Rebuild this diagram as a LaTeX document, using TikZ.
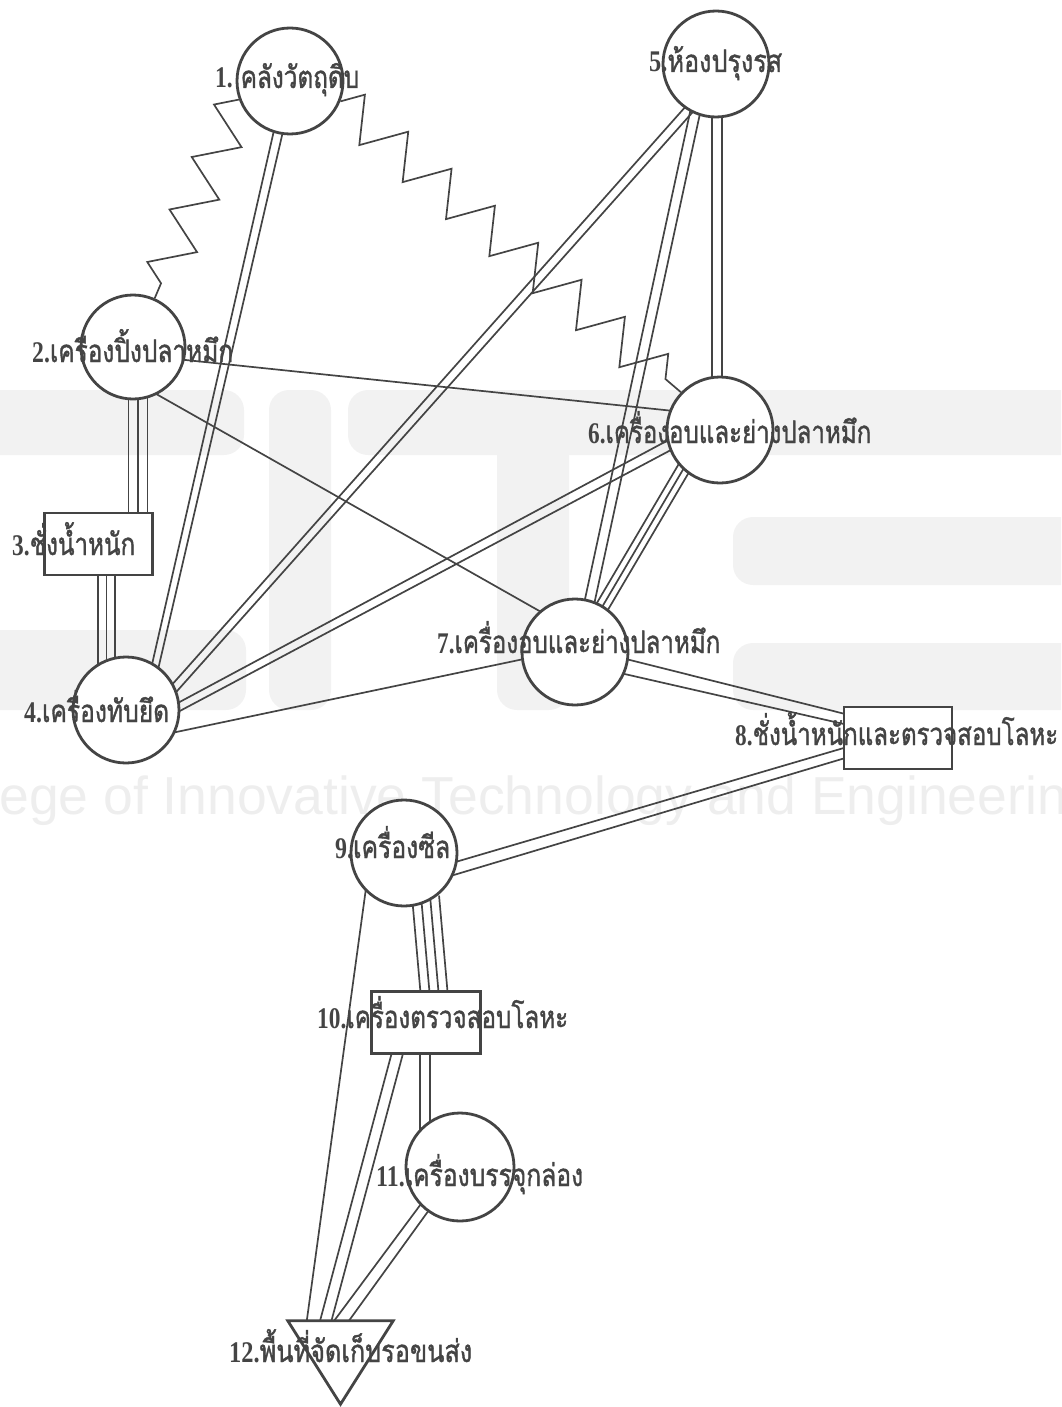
\documentclass[tikz,border=0pt]{standalone}
\usepackage{fontspec}
\usepackage{graphicx}
\usetikzlibrary{calc,decorations.pathmorphing}
\newfontfamily\thaifont[Script=Thai, FakeBold=1.4]{Loma}
\newfontfamily\digitfont{Liberation Serif}
\newfontfamily\wmfont{Liberation Sans}
\definecolor{ink}{HTML}{444444}
\definecolor{wmgray}{HTML}{EEEEEE}
\definecolor{wmblockgray}{HTML}{F2F2F2}
\pgfdeclarelayer{wmlayer}
\pgfdeclarelayer{edgelayer}
\pgfsetlayers{wmlayer,edgelayer,main}

\tikzset{
  station/.style={circle, draw=ink, line width=2.8pt, fill=white, minimum size=106pt, inner sep=0pt},
  checkbox/.style={rectangle, draw=ink, line width=2.8pt, fill=white, minimum height=62pt, inner sep=0pt},
  border/.style={draw=ink, line width=2.8pt, fill=white},
  conn/.style={draw=ink, line width=1.7pt},
  wave/.style={conn, decorate, decoration={zigzag, segment length=57pt, amplitude=21pt}},
  lbltext/.style={inner sep=0pt, text=ink, anchor=base west},
  wmblock/.style={fill=wmblockgray, rounded corners=20pt},
}

% a bundle of parallel (or slightly converging) lines from #1 to #2;
% each entry a/b of #3 gives the side offset at the start and at the end
\newcommand\multilink[3]{%
  \foreach \oa/\ob in {#3}{%
    \draw[conn] ($($(#1)!-6pt!(#2)$)!\oa!90:(#2)$) -- ($($(#2)!-6pt!(#1)$)!\ob!-90:(#1)$);
  }}
% station label: name, left x, baseline y, width, number, Thai text
\newcommand\stlabel[6]{%
  \node[lbltext] (#1) at (#2,#3) {\resizebox{#4pt}{\height}{%
    {\digitfont\bfseries\fontsize{30}{34}\selectfont #5}%
    {\thaifont\fontsize{31}{36}\selectfont #6}}};}

\begin{document}
\begin{tikzpicture}[x=1pt,y=-1pt]
\useasboundingbox (0,0) rectangle (1061,1407);

% background watermark: large block letters and the college name
\begin{pgfonlayer}{wmlayer}
  \begin{scope}
    \clip (0,0) rectangle (1061,1407);
    % C
    \fill[wmblock] (-60,390) rectangle (244,455);
    \fill[wmblock] (-60,630) rectangle (246,710);
    % I
    \fill[wmblock] (269,390) rectangle (331,710);
    % T
    \fill[wmblock] (348,390) rectangle (713,455);
    \fill[wmblock] (497,390) rectangle (569,710);
    % E
    \fill[wmblock] (733,390) rectangle (1100,455);
    \fill[wmblock] (733,517) rectangle (1100,585);
    \fill[wmblock] (733,643) rectangle (1100,710);
    \node[inner sep=0pt, anchor=base west, text=wmgray, font=\wmfont\fontsize{53.5}{60}\selectfont] (wmline) at (-93,814) {College of Innovative Technology and Engineering};
  \end{scope}
\end{pgfonlayer}

% stations
\node[station] (n1) at (290,81) {};
\node[station, minimum size=104pt] (n2) at (133,347) {};
\node[checkbox, minimum width=108pt] (n3) at (98.5,544) {};
\node[station] (n4) at (126,710) {};
\node[station] (n5) at (716,64) {};
\node[station] (n6) at (720,430) {};
\node[station] (n7) at (575,652) {};
\node[checkbox, minimum width=108pt] (n8) at (898,738) {};
\node[station] (n9) at (404,853) {};
\node[checkbox, minimum width=109pt] (n10) at (426,1022.5) {};
\node[station, minimum size=108pt] (n11) at (460,1167) {};
\node[inner sep=0pt, minimum width=105pt, minimum height=83pt] (n12) at (340.5,1362.5) {};
\draw[border] (n12.north west) -- (n12.north east) -- (n12.south) -- cycle;

% attachment points
\coordinate (a23) at ($(n2.center)+(5,0)$);
\coordinate (b23) at (a23 |- n3.center);
\coordinate (a34) at ($(n3.center)+(8,0)$);
\coordinate (b34) at (a34 |- n4.center);
\coordinate (a56) at ($(n5.center)+(1,0)$);
\coordinate (b56) at (a56 |- n6.center);
\coordinate (a1011) at ($(n10.center)+(-1,0)$);
\coordinate (b1011) at (a1011 |- n11.center);
\coordinate (p8a) at ($(n8.north west)!0.2!(n8.south west)$);
\coordinate (p8b) at ($(n8.north west)!0.74!(n8.south west)$);
\coordinate (p10a) at ($(n10.north west)!0.57!(n10.north east)$);
\coordinate (p10b) at ($(n10.south west)!0.24!(n10.south east)$);
\coordinate (p12a) at ($(n12.north west)!0.18!(n12.north east)$);
\coordinate (p12b) at ($(n12.north west)!0.36!(n12.north east)$);
\coordinate (p12c) at ($(n12.north west)!0.51!(n12.north east)$);

% connectors
\begin{pgfonlayer}{edgelayer}
  \draw[wave, decoration={mirror}] (n1.-160) -- (n2.66);
  \draw[wave] (n1.-22) -- (n6.136);
  \multilink{n1.-103}{n4.57}{-4.5pt/-3.5pt,4.5pt/3.5pt}
  \multilink{a23}{b23}{-9.5pt/-9.5pt,0pt/0pt,9.5pt/9.5pt}
  \multilink{a34}{b34}{-8.5pt/-8.5pt,0pt/0pt,8.5pt/8.5pt}
  \multilink{n2.-14}{n6.159}{0pt/0pt}
  \multilink{n2.-63}{n7.131}{0pt/0pt}
  \multilink{n4.25}{n5.-121}{-4pt/-4.5pt,4pt/4.5pt}
  \multilink{n4.4}{n6.-163}{-4pt/-5pt,4pt/5pt}
  \multilink{n4.-24}{n7.-172}{0pt/0pt}
  \begin{scope}[conn/.append style={line width=2.1pt}]
    \multilink{a56}{b56}{-5pt/-5pt,5pt/5pt}
  \end{scope}
  \multilink{n5.-113}{n7.74}{-5pt/-5pt,5pt/5pt}
  \multilink{n6.-133}{n7.59}{-6.5pt/-6.5pt,0pt/0pt,6.5pt/6.5pt}
  \multilink{n7.-16}{p8a}{-7.5pt/-5pt,7.5pt/5pt}
  \multilink{n9.-16}{p8b}{-6pt/-5pt,6pt/5pt}
  \multilink{n9.-66}{p10a}{-13.5pt/-13.5pt,-4.5pt/-4.5pt,4.5pt/4.5pt,13.5pt/13.5pt}
  \multilink{a1011}{b1011}{-5.3pt/-5.3pt,5.3pt/5.3pt}
  \multilink{p10b}{p12b}{-5.5pt/-5.5pt,5.5pt/5.5pt}
  \multilink{n9.-135}{p12a}{0pt/0pt}
  \multilink{n11.-131}{p12c}{-5pt/-6pt,5pt/6pt}
\end{pgfonlayer}

% station labels
\stlabel{l1}{215}{88}{144}{1. }{คลังวัตถุดิบ}
\stlabel{l2}{32}{362}{201}{2.}{เครื่องปิ้งปลาหมึก}
\stlabel{l3}{12}{555}{123}{3.}{ชั่งน้ำหนัก}
\stlabel{l4}{24}{722}{145}{4.}{เครื่องทับยึด}
\stlabel{l5}{649}{72}{133}{5.}{ห้องปรุงรส}
\stlabel{l6}{588}{443}{283}{6.}{เครื่องอบและย่างปลาหมึก}
\stlabel{l7}{437}{653}{283}{7.}{เครื่องอบและย่างปลาหมึก}
\stlabel{l8}{735}{745}{323}{8.}{ชั่งน้ำหนักและตรวจสอบโลหะ}
\stlabel{l9}{335}{858}{115}{9.}{เครื่องซีล}
\stlabel{l10}{317}{1028}{251}{10.}{เครื่องตรวจสอบโลหะ}
\stlabel{l11}{376}{1186}{207}{11.}{เครื่องบรรจุกล่อง}
\stlabel{l12}{229}{1362}{243}{12.}{พื้นที่จัดเก็บรอขนส่ง}
\end{tikzpicture}
\end{document}
